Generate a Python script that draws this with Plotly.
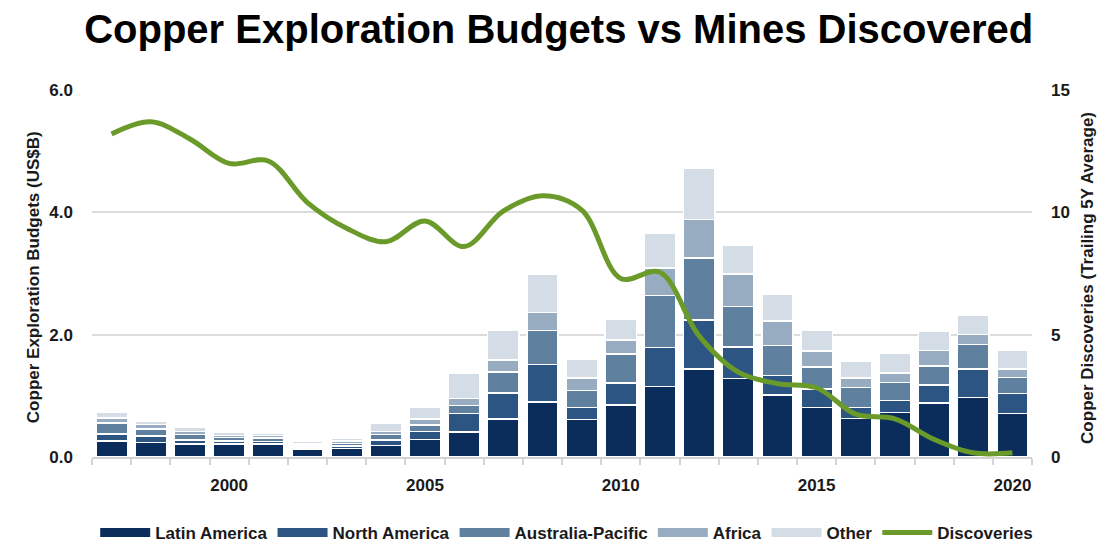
import plotly.graph_objects as go

years = list(range(1997, 2021))

latin_america = [0.26, 0.24, 0.21, 0.21, 0.21, 0.13, 0.14, 0.19, 0.29, 0.41, 0.62, 0.90,
                 0.61, 0.85, 1.15, 1.44, 1.28, 1.01, 0.81, 0.63, 0.73, 0.88, 0.97, 0.71]
north_america = [0.12, 0.10, 0.07, 0.05, 0.04, 0.03, 0.04, 0.09, 0.13, 0.30, 0.43, 0.61,
                 0.20, 0.36, 0.64, 0.80, 0.52, 0.32, 0.30, 0.18, 0.19, 0.30, 0.47, 0.33]
australia_pacific = [0.18, 0.12, 0.09, 0.06, 0.06, 0.04, 0.04, 0.09, 0.10, 0.13, 0.34, 0.56,
                     0.28, 0.47, 0.85, 1.01, 0.66, 0.49, 0.36, 0.33, 0.30, 0.31, 0.40, 0.26]
africa = [0.08, 0.07, 0.05, 0.03, 0.04, 0.02, 0.04, 0.05, 0.10, 0.12, 0.20, 0.29,
          0.20, 0.23, 0.45, 0.63, 0.53, 0.40, 0.26, 0.15, 0.15, 0.25, 0.16, 0.14]
other = [0.09, 0.06, 0.06, 0.06, 0.04, 0.03, 0.05, 0.14, 0.20, 0.41, 0.48, 0.63,
         0.31, 0.34, 0.56, 0.84, 0.48, 0.44, 0.34, 0.27, 0.32, 0.31, 0.32, 0.30]
discoveries = [13.2, 13.7, 13.0, 12.0, 12.1, 10.4, 9.35, 8.8, 9.65, 8.6, 10.05, 10.68,
               10.1, 7.3, 7.55, 4.95, 3.47, 3.0, 2.83, 1.75, 1.56, 0.72, 0.17, 0.17]

x_tick_vals = [2000, 2005, 2010, 2015, 2020]
y_left_ticks = [0, 2, 4, 6]
y_left_labels = ["0.0", "2.0", "4.0", "6.0"]
y_right_ticks = [0, 5, 10, 15]

series = [
    ("Latin America", latin_america, "#0b2d5b"),
    ("North America", north_america, "#2c5584"),
    ("Australia-Pacific", australia_pacific, "#60809f"),
    ("Africa", africa, "#98acc1"),
    ("Other", other, "#d4dce6"),
]
green = "#6a9a2a"
font_family = "Liberation Sans, Arial"
txt = "#1a1a1a"
fsize = 17

fig = go.Figure()
for name, vals, col in series:
    fig.add_trace(go.Bar(x=years, y=vals, name=name, marker_color=col,
                         marker_line_color="white", marker_line_width=1.5,
                         showlegend=False))
# legend proxies (wide rectangles)
for name, vals, col in series:
    fig.add_trace(go.Scatter(x=[None], y=[None], mode="lines", name=name,
                             line=dict(color=col, width=9)))
fig.add_trace(go.Scatter(x=years, y=discoveries, mode="lines", name="Discoveries",
                         yaxis="y2", line=dict(color=green, width=5, shape="spline")))

tf = dict(family=font_family, size=fsize, color=txt, weight="bold")

fig.update_layout(
    width=1102, height=547,
    margin=dict(l=92, r=70, t=90, b=90, autoexpand=False),
    barmode="stack", bargap=0.2,
    plot_bgcolor="white", paper_bgcolor="white",
    title=dict(text="Copper Exploration Budgets vs Mines Discovered",
               x=0.507, xref="container", xanchor="center",
               y=1 - 29 / 547, yref="container", yanchor="middle",
               font=dict(family=font_family, size=40, color="black", weight="bold")),
    xaxis=dict(range=[1996.5, 2020.5], tickvals=x_tick_vals, ticks="",
               ticklabelstandoff=12, showgrid=False, zeroline=False,
               showline=True, linecolor="#d3d3d3", linewidth=1.5, tickfont=tf,
               minor=dict(ticks="outside", tick0=1996.5, dtick=1, ticklen=6,
                          tickcolor="#d3d3d3", tickwidth=1.5, showgrid=False)),
    yaxis=dict(range=[0, 6], tickvals=y_left_ticks, ticktext=y_left_labels,
               showgrid=True, gridcolor="#dcdcdc", gridwidth=1.5, zeroline=False,
               ticks="", ticklabelstandoff=18, tickfont=tf),
    yaxis2=dict(range=[0, 15], tickvals=y_right_ticks, overlaying="y", side="right",
                showgrid=False, zeroline=False, ticks="", ticklabelstandoff=18,
                tickfont=tf),
    legend=dict(orientation="h", x=0.505, xanchor="center", y=-0.207,
                yanchor="middle", itemwidth=50, font=tf, traceorder="normal"),
    annotations=[
        dict(text="Copper Exploration Budgets (US$B)", xref="paper", yref="paper",
             x=(33 - 92) / 940, y=0.49, textangle=-90, showarrow=False,
             xanchor="center", yanchor="middle", font=tf),
        dict(text="Copper Discoveries (Trailing 5Y Average)", xref="paper", yref="paper",
             x=(1088 - 92) / 940, y=0.488, textangle=-90, showarrow=False,
             xanchor="center", yanchor="middle", font=tf),
    ],
)

fig.write_html("out.html")
